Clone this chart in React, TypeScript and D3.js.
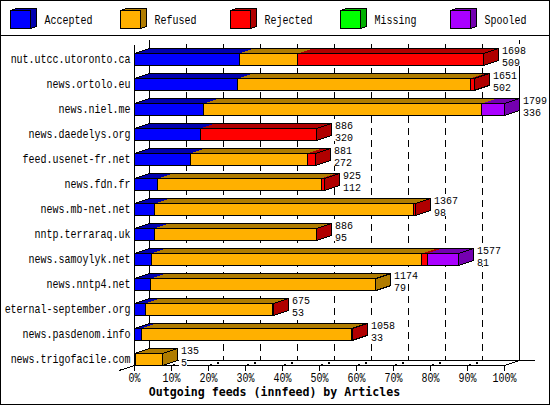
import * as d3 from "d3";

const hosts = [
  "nut.utcc.utoronto.ca",
  "news.ortolo.eu",
  "news.niel.me",
  "news.daedelys.org",
  "feed.usenet-fr.net",
  "news.fdn.fr",
  "news.mb-net.net",
  "nntp.terraraq.uk",
  "news.samoylyk.net",
  "news.nntp4.net",
  "eternal-september.org",
  "news.pasdenom.info",
  "news.trigofacile.com",
];
const accepted = [509, 502, 336, 320, 272, 112, 98, 95, 81, 79, 53, 33, 5];
const refused = [285, 1130, 1352, 0, 567, 795, 1260, 789, 1316, 1095, 616, 1022, 130];
const rejected = [904, 19, 0, 566, 42, 18, 9, 2, 26, 0, 6, 3, 0];
const missing = [0, 0, 0, 0, 0, 0, 0, 0, 0, 0, 0, 0, 0];
const spooled = [0, 0, 111, 0, 0, 0, 0, 0, 154, 0, 0, 0, 0];
const totals = [1698, 1651, 1799, 886, 881, 925, 1367, 886, 1577, 1174, 675, 1058, 135];

const seriesNames = ["Accepted", "Refused", "Rejected", "Missing", "Spooled"];
const seriesValues = [accepted, refused, rejected, missing, spooled];
const frontColors = ["#0000ff", "#ffb000", "#ff0000", "#00ff00", "#aa00ff"];
const darkColors = ["#0000b0", "#b07c00", "#b00000", "#00b000", "#7400b0"];
const percentTicks = [0, 10, 20, 30, 40, 50, 60, 70, 80, 90, 100];

const depthX = 15;
const depthY = 5;
const barHeight = 12;
const axisBottom = 365.5;

const x = d3.scaleLinear().domain([0, d3.max(totals)!]).range([134.5, 504.5]);
const xPercent = d3.scaleLinear().domain([0, 100]).range([134.5, 504.5]);
const rowBottom = d3.scalePoint().domain(hosts).range([65.5, 365.5]);

const stacked = d3
  .stack<number>()
  .keys(seriesNames.map((_, i) => String(i)))
  .value((row, key) => seriesValues[+key][row])(hosts.map((_, i) => i));

const poly = (points: [number, number][]) => d3.line()(points) + "Z";

// the original font is a tall narrow bitmap one, 6px per character
const Mono = ({
  x,
  y,
  anchor,
  size = 12,
  children,
}: {
  x: number;
  y: number;
  anchor?: string;
  size?: number;
  children: any;
}) => (
  <text
    transform={`translate(${x},${y}) scale(${10 / size},1)`}
    fontFamily="'Liberation Mono', monospace"
    fontSize={size}
    textAnchor={anchor}
  >
    {children}
  </text>
);

const Bar = ({ row }: { row: number }) => {
  const bottom = rowBottom(hosts[row])!;
  const top = bottom - barHeight;
  const end = x(totals[row]);
  const segments = stacked
    .map((layer, i) => ({ i, x0: x(layer[row][0]), x1: x(layer[row][1]), v: seriesValues[i][row] }))
    .filter((s) => s.v > 0);
  const last = segments[segments.length - 1];
  return (
    <g>
      {segments.map((s) => (
        <path
          key={s.i}
          d={poly([
            [s.x0, top],
            [s.x0 + depthX, top - depthY],
            [s.x1 + depthX, top - depthY],
            [s.x1, top],
          ])}
          fill={darkColors[s.i]}
        />
      ))}
      <path
        d={d3.line()([
          [x(0), top],
          [x(0) + depthX, top - depthY],
          [end + depthX, top - depthY],
        ])!}
        fill="none"
        stroke="#000"
      />
      <path
        d={poly([
          [end, top],
          [end + depthX, top - depthY],
          [end + depthX, bottom - depthY],
          [end, bottom],
        ])}
        fill={darkColors[last.i]}
        stroke="#000"
      />
      {segments.map((s) => (
        <rect
          key={s.i}
          x={s.x0}
          y={top}
          width={s.x1 - s.x0}
          height={barHeight}
          fill={frontColors[s.i]}
          stroke="#000"
        />
      ))}
    </g>
  );
};

const BarLabels = ({ row }: { row: number }) => {
  const bottom = rowBottom(hosts[row])!;
  const lx = Math.round(x(totals[row]) + 18.5);
  const upper = String(totals[row]);
  const lower = String(accepted[row]);
  return (
    <g>
      <rect x={lx - 2} y={bottom - 21.5} width={upper.length * 6 + 2} height={11} fill="#fff" />
      <rect x={lx - 2} y={bottom - 10.5} width={lower.length * 6 + 2} height={11} fill="#fff" />
      <Mono x={lx} y={bottom - 11.5} size={10.5}>{upper}</Mono>
      <Mono x={lx} y={bottom} size={10.5}>{lower}</Mono>
    </g>
  );
};

export default function App() {
  return (
    <svg width={550} height={405} style={{ position: "absolute", left: 0, top: 0 }} fill="#000">
      <g shapeRendering="crispEdges">
        <rect x={0.5} y={0.5} width={549} height={404} fill="#fff" stroke="#000" />
        <line x1={0} x2={550} y1={35.5} y2={35.5} stroke="#000" />

        {seriesNames.map((name, i) => {
          const lx = 10.5 + i * 110;
          return (
            <g key={name}>
              <path
                d={poly([
                  [lx, 10.5],
                  [lx + 6, 8.5],
                  [lx + 26, 8.5],
                  [lx + 26, 26.5],
                  [lx + 20, 28.5],
                  [lx + 20, 10.5],
                ])}
                fill={darkColors[i]}
                stroke="#000"
              />
              <rect x={lx} y={10.5} width={20} height={18} fill={frontColors[i]} stroke="#000" />
            </g>
          );
        })}

        {/* back wall */}
        {percentTicks.map((p) => (
          <line
            key={p}
            x1={xPercent(p) + depthX}
            x2={xPercent(p) + depthX}
            y1={40}
            y2={axisBottom - depthY}
            stroke="#000"
            strokeDasharray={p === 0 || p === 100 ? undefined : "7 5"}
            strokeDashoffset={8}
          />
        ))}
        <line x1={149.5} x2={535} y1={axisBottom - depthY} y2={axisBottom - depthY} stroke="#000" />

        {/* floor */}
        {percentTicks.slice(1, -1).map((p) => (
          <g key={p}>
            <line
              x1={xPercent(p) + 1}
              y1={axisBottom - 1}
              x2={xPercent(p) + 3}
              y2={axisBottom - 1}
              stroke="#000"
            />
            <rect x={xPercent(p) + 8.5} y={axisBottom - 4} width={2} height={2} fill="#000" />
          </g>
        ))}
        <line x1={119} y1={370.5} x2={134.5} y2={axisBottom} stroke="#000" />
        <line x1={504.5} y1={axisBottom} x2={519.5} y2={360.5} stroke="#000" />
        <line x1={134.5} x2={504.5} y1={axisBottom} y2={axisBottom} stroke="#000" />
        <line x1={134.5} x2={134.5} y1={45} y2={axisBottom} stroke="#000" />
        {percentTicks.map((p) => (
          <line key={p} x1={xPercent(p)} x2={xPercent(p)} y1={axisBottom} y2={370.5} stroke="#000" />
        ))}

        {hosts.map((_, i) => (
          <Bar key={i} row={i} />
        ))}
      </g>

      {hosts.map((_, i) => (
        <BarLabels key={i} row={i} />
      ))}

      {seriesNames.map((name, i) => (
        <Mono key={name} x={44.5 + i * 110} y={24}>
          {name}
        </Mono>
      ))}

      {hosts.map((h) => (
        <Mono key={h} x={130.5} y={rowBottom(h)! - 2.5} anchor="end">
          {h}
        </Mono>
      ))}

      {percentTicks.map((p) => (
        <Mono key={p} x={xPercent(p)} y={382} anchor="middle">
          {p}%
        </Mono>
      ))}

      <text
        x={274.5}
        y={396}
        fontFamily="'DejaVu Sans Mono', monospace"
        fontSize={11.6}
        fontWeight="bold"
        textAnchor="middle"
      >
        Outgoing feeds (innfeed) by Articles
      </text>
    </svg>
  );
}
